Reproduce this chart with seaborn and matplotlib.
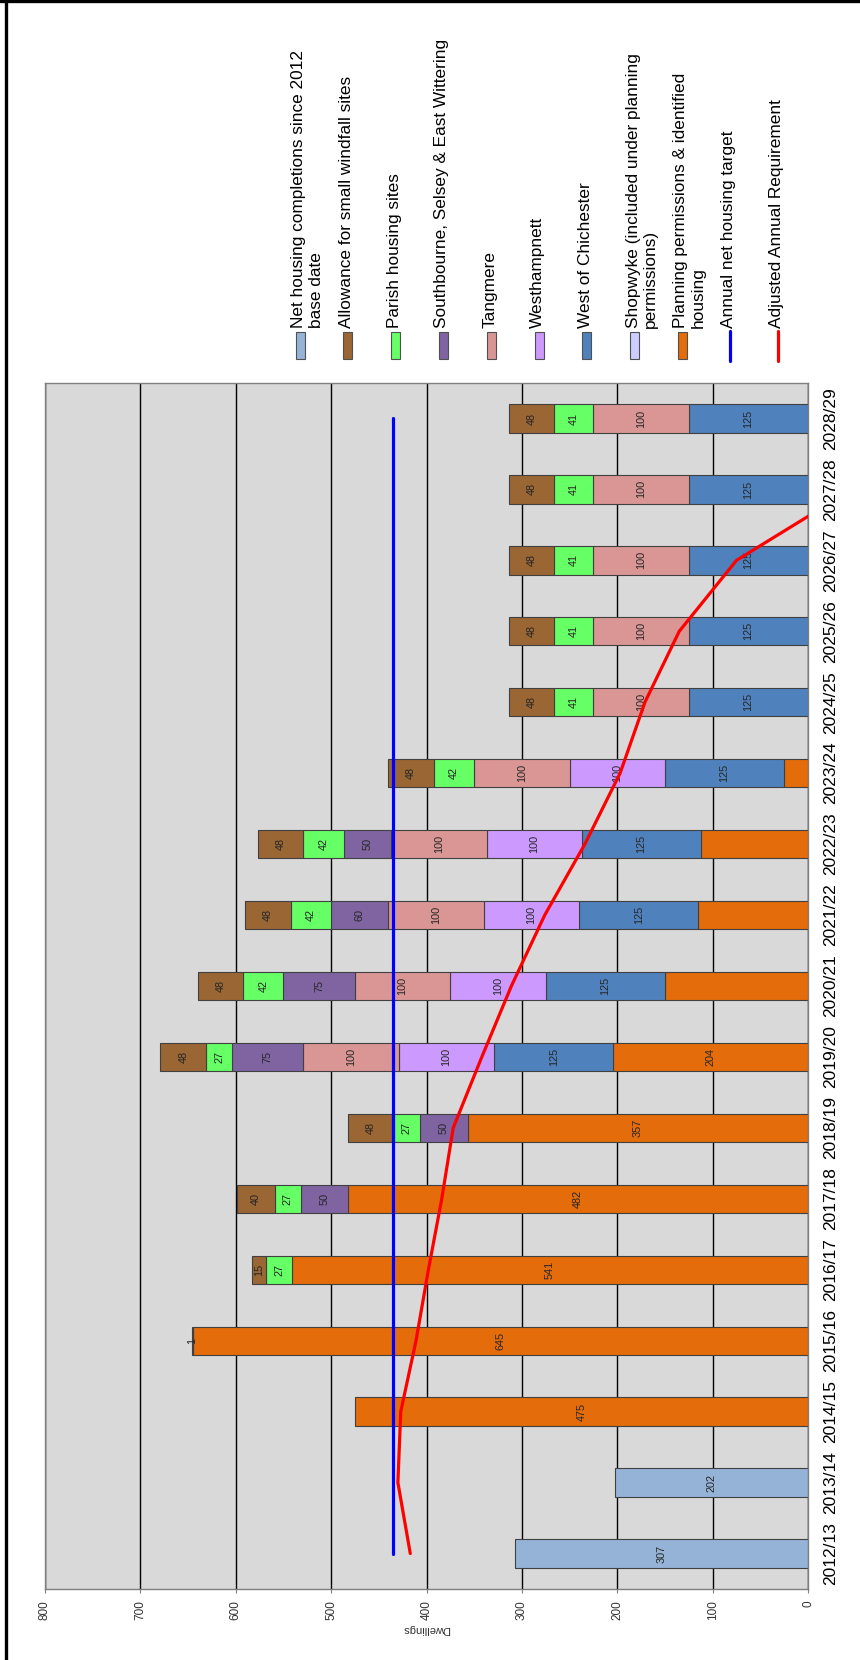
import numpy as np
import pandas as pd
import matplotlib
matplotlib.use("Agg")
import matplotlib.pyplot as plt
import seaborn as sns

# --- data ---
years = ['2012/13', '2013/14', '2014/15', '2015/16', '2016/17', '2017/18',
         '2018/19', '2019/20', '2020/21', '2021/22', '2022/23', '2023/24',
         '2024/25', '2025/26', '2026/27', '2027/28', '2028/29']

completions = [307, 202, 0, 0, 0, 0, 0, 0, 0, 0, 0, 0, 0, 0, 0, 0, 0]
planning = [0, 0, 475, 645, 541, 482, 357, 204, 150, 115, 112, 25, 0, 0, 0, 0, 0]
west_chichester = [0, 0, 0, 0, 0, 0, 0, 125, 125, 125, 125, 125, 125, 125, 125, 125, 125]
westhampnett = [0, 0, 0, 0, 0, 0, 0, 100, 100, 100, 100, 100, 0, 0, 0, 0, 0]
tangmere = [0, 0, 0, 0, 0, 0, 0, 100, 100, 100, 100, 100, 100, 100, 100, 100, 100]
southbourne = [0, 0, 0, 0, 0, 50, 50, 75, 75, 60, 50, 0, 0, 0, 0, 0, 0]
parish = [0, 0, 0, 0, 27, 27, 27, 27, 42, 42, 42, 42, 41, 41, 41, 41, 41]
windfall = [0, 0, 0, 1, 15, 40, 48, 48, 48, 48, 48, 48, 48, 48, 48, 48, 48]
shopwyke = [0] * 17

# planning permission segments printed without a value label
unlabelled_pp = ['2020/21', '2021/22', '2022/23', '2023/24']

annual_target = [435] * 17
adjusted_requirement = [417, 430, 427, 411, 398, 384, 372, 342, 311, 276, 234,
                        197, 171, 135, 75, -46, np.nan]

legend_labels = ['Net housing completions since 2012\nbase date',
                 'Allowance for small windfall sites',
                 'Parish housing sites',
                 'Southbourne, Selsey & East Wittering',
                 'Tangmere',
                 'Westhampnett',
                 'West of Chichester',
                 'Shopwyke (included under planning\npermissions)',
                 'Planning permissions & identified\nhousing',
                 'Annual net housing target',
                 'Adjusted Annual Requirement']

colors = {'completions': '#95b3d7', 'windfall': '#9a6634', 'parish': '#66ff66',
          'southbourne': '#8064a2', 'tangmere': '#da9694', 'westhampnett': '#cc99ff',
          'west_chichester': '#4f81bd', 'shopwyke': '#ccccff', 'planning': '#e46c0a',
          'target': '#0000ff', 'adjusted': '#ff0000'}

df = pd.DataFrame({'year': years, 'completions': completions, 'planning': planning,
                   'west_chichester': west_chichester, 'westhampnett': westhampnett,
                   'tangmere': tangmere, 'southbourne': southbourne, 'parish': parish,
                   'windfall': windfall, 'shopwyke': shopwyke})

# stacking order from zero outwards
stack_order = ['completions', 'planning', 'west_chichester', 'westhampnett', 'tangmere',
               'southbourne', 'parish', 'windfall', 'shopwyke']

sns.set_style('white')
plt.rcParams['font.family'] = ['Liberation Sans', 'DejaVu Sans']

W, H = 860, 1660
fig = plt.figure(figsize=(W / 100, H / 100), dpi=100)


def fx(px):
    return px / W


def fy(py):
    return 1 - py / H


# plot area: x 45..808, y 383..1589 (pixels)
ax = fig.add_axes([fx(45), fy(1589), fx(808) - fx(45), fy(383) - fy(1589)])
ax.set_facecolor('#d9d9d9')
ax.set_axisbelow(True)

pos = np.arange(len(years))
left = np.zeros(len(years))
for key in stack_order:
    vals = df[key].to_numpy(dtype=float)
    mask = vals > 0
    ax.barh(pos[mask], vals[mask], left=left[mask], height=0.4,
            color=colors[key], edgecolor='#404040', linewidth=0.8, zorder=2)
    for i in np.where(mask)[0]:
        if key == 'planning' and years[i] in unlabelled_pp:
            continue
        ax.text(left[i] + vals[i] / 2, pos[i], f'{int(vals[i])}', rotation=90,
                ha='center', va='center', fontsize=7.8, color='#262626', zorder=3)
    left += vals

sns.lineplot(x=annual_target, y=pos, orient='y', sort=False, ax=ax,
             color=colors['target'], linewidth=2.3, solid_capstyle='round', zorder=4)
sns.lineplot(x=adjusted_requirement, y=pos, orient='y', sort=False, ax=ax,
             color=colors['adjusted'], linewidth=2.3, solid_capstyle='round', zorder=5)

ax.set_xlim(800, 0)
ax.set_ylim(-0.5, len(years) - 0.5)
ax.set_xticks(range(0, 801, 100))
ax.xaxis.grid(True, color='black', linewidth=1.0)
ax.yaxis.grid(False)
ax.tick_params(axis='x', bottom=True, length=3, direction='out', color='#808080',
               labelrotation=90, labelsize=8.5, pad=5, labelcolor='#333333')
ax.yaxis.tick_right()
ax.set_yticks(pos)
ax.set_yticklabels(years, rotation=90, va='center')
ax.tick_params(axis='y', length=0, pad=11, labelsize=12.5, labelcolor='black')
ax.set_xlabel('')
ax.set_ylabel('')
for sp in ax.spines.values():
    sp.set_color('#808080')
    sp.set_linewidth(1.0)

fig.text(fx(426), fy(1629), 'Dwellings', rotation=180, ha='center', va='center',
         fontsize=8, color='#333333')

# legend, drawn rotated like the rest of the chart
patch_keys = ['completions', 'windfall', 'parish', 'southbourne', 'tangmere',
              'westhampnett', 'west_chichester', 'shopwyke', 'planning']
line_keys = ['target', 'adjusted']
for i, label in enumerate(legend_labels):
    cx = 300 + i * 47.8
    if i < len(patch_keys):
        fig.patches.append(plt.Rectangle((fx(cx - 4.5), fy(359)), fx(9), fy(332) - fy(359),
                                         transform=fig.transFigure, facecolor=colors[patch_keys[i]],
                                         edgecolor='#505050', linewidth=0.8))
    else:
        fig.add_artist(plt.Line2D([fx(cx), fx(cx)], [fy(361), fy(331)], transform=fig.transFigure,
                                  color=colors[line_keys[i - len(patch_keys)]], linewidth=2.3,
                                  solid_capstyle='round'))
    fig.text(fx(cx - 9), fy(328), label, rotation=90, ha='left', va='bottom',
             fontsize=12.4, color='black', linespacing=1.22)

# frame remnants on top and left edges
fig.add_artist(plt.Line2D([0, 1], [fy(1.5), fy(1.5)], transform=fig.transFigure,
                          color='black', linewidth=2.4))
fig.add_artist(plt.Line2D([fx(5.5), fx(5.5)], [0, 1], transform=fig.transFigure,
                          color='black', linewidth=2.4))

fig.savefig('out.png', dpi=100)
